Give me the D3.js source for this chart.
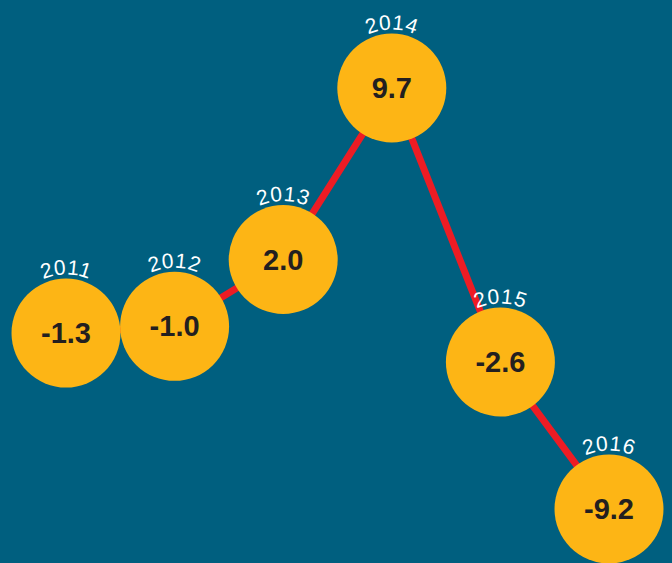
<!DOCTYPE html>
<html>
<head>
<meta charset="utf-8">
<script src="https://cdn.jsdelivr.net/npm/d3@7"></script>
<style>
  body { margin: 0; background: #005f7f; }
  svg { display: block; }
</style>
</head>
<body>
<div id="chart"></div>
<script>
// Data
var years = ["2011", "2012", "2013", "2014", "2015", "2016"];
var values = [-1.3, -1.0, 2.0, 9.7, -2.6, -9.2];

var svgWidth = 672;
var svgHeight = 563;
var radius = 54.5;

var svg = d3.select("#chart").append("svg").attr("width", svgWidth).attr("height", svgHeight);
svg.append("rect").attr("width", svgWidth).attr("height", svgHeight).attr("fill", "#005f7f");

var data = years.map((y, i) => ({ year: y, value: values[i] }));

// Scales
var xScale = d3.scalePoint().domain(years).range([66, 609]);
var yScale = d3.scaleLinear().domain([d3.min(values), d3.max(values)]).range([509, 88]);

// connecting line
var line = d3.line().x(d => xScale(d.year)).y(d => yScale(d.value));
svg.append("path")
  .datum(data)
  .attr("d", line)
  .attr("fill", "none")
  .attr("stroke", "#ed1c24")
  .attr("stroke-width", 7);

var nodes = svg.selectAll(".node").data(data).enter().append("g")
  .attr("class", "node")
  .attr("transform", d => `translate(${xScale(d.year)}, ${yScale(d.value)})`);

nodes.append("circle")
  .attr("r", radius)
  .attr("fill", "#fdb515");

nodes.append("text")
  .text(d => d.value.toFixed(1))
  .attr("y", 10)
  .attr("text-anchor", "middle")
  .style("font-family", "Liberation Sans, Arial, sans-serif")
  .style("font-weight", "bold")
  .style("font-size", "29px")
  .attr("fill", "#231f20");

// curved year labels along top of circle
var arcR = radius + 4;
nodes.append("path")
  .attr("id", (d, i) => "arc" + i)
  .attr("d", `M ${-arcR * Math.sin(Math.PI / 3)} ${-arcR * Math.cos(Math.PI / 3)} A ${arcR} ${arcR} 0 0 1 ${arcR * Math.sin(Math.PI / 3)} ${-arcR * Math.cos(Math.PI / 3)}`)
  .attr("fill", "none");

nodes.append("text")
  .style("font-family", "Liberation Sans, Arial, sans-serif")
  .style("font-size", "21px")
  .style("letter-spacing", "0.5px")
  .attr("fill", "#ffffff")
  .append("textPath")
  .attr("href", (d, i) => "#arc" + i)
  .attr("startOffset", "50%")
  .attr("text-anchor", "middle")
  .text(d => d.year);
</script>
</body>
</html>
